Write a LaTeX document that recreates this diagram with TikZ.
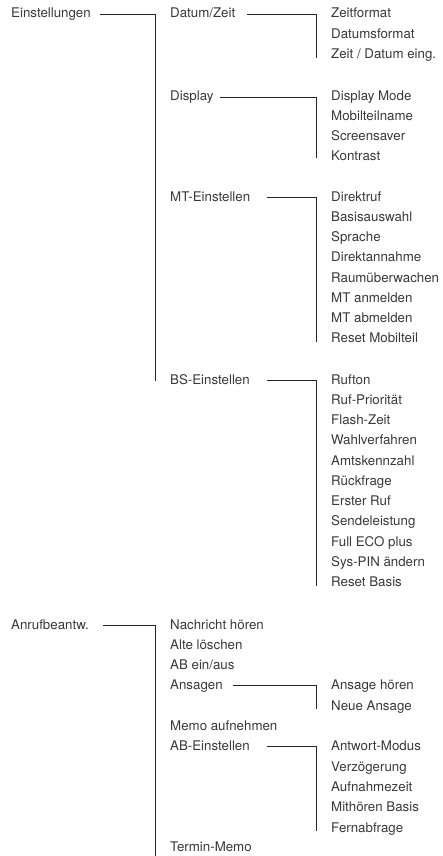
\documentclass[tikz,border=0pt]{standalone}
\usepackage{fontspec}
\setmainfont{TeX Gyre Heros}
\begin{document}
\begin{tikzpicture}[x=1pt,y=-1pt,
  item/.style={anchor=west,inner sep=0pt,text height=8pt,text depth=0pt,
    font=\fontsize{13.3pt}{15pt}\selectfont,text=black!78},
  conn/.style={draw=black!85,line width=0.9pt}]
\useasboundingbox (0,0) rectangle (443,856);
% level 1
\node[item] (einst) at (11,14) {Einstellungen};
\node[item] (anruf) at (11,625) {Anrufbeantw.};
% level 2 Einstellungen
\node[item] (datum) at (170,14) {Datum/Zeit};
\node[item] (disp) at (170,97) {Display};
\node[item] (mt) at (170,197) {MT-Einstellen};
\node[item] (bs) at (170,380) {BS-Einstellen};
% Datum/Zeit
\node[item] (d1) at (331,14) {Zeitformat};
\node[item] (d2) at (331,34.3) {Datumsformat};
\node[item] (d3) at (331,54.6) {Zeit / Datum eing.};
% Display
\node[item] (p1) at (331,97) {Display Mode};
\node[item] (p2) at (331,117) {Mobilteilname};
\node[item] (p3) at (331,136.5) {Screensaver};
\node[item] (p4) at (331,156.5) {Kontrast};
% MT
\node[item] (m1) at (331,197) {Direktruf};
\node[item] (m2) at (331,217.25) {Basisauswahl};
\node[item] (m3) at (331,237.5) {Sprache};
\node[item] (m4) at (331,257.75) {Direktannahme};
\node[item] (m5) at (331,278) {Raumüberwachen};
\node[item] (m6) at (331,298.25) {MT anmelden};
\node[item] (m7) at (331,318.5) {MT abmelden};
\node[item] (m8) at (331,338.75) {Reset Mobilteil};
% BS
\node[item] (b1) at (331,380) {Rufton};
\node[item] (b2) at (331,400.27) {Ruf-Priorität};
\node[item] (b3) at (331,420.54) {Flash-Zeit};
\node[item] (b4) at (331,440.81) {Wahlverfahren};
\node[item] (b5) at (331,461.08) {Amtskennzahl};
\node[item] (b6) at (331,481.35) {Rückfrage};
\node[item] (b7) at (331,501.62) {Erster Ruf};
\node[item] (b8) at (331,521.89) {Sendeleistung};
\node[item] (b9) at (331,542.16) {Full ECO plus};
\node[item] (b10) at (331,562.43) {Sys-PIN ändern};
\node[item] (b11) at (331,582.7) {Reset Basis};
% level 2 Anrufbeantw.
\node[item] (a1) at (170,625) {Nachricht hören};
\node[item] (a2) at (170,645.3) {Alte löschen};
\node[item] (a3) at (170,665.6) {AB ein/aus};
\node[item] (a4) at (170,685.9) {Ansagen};
\node[item] (a5) at (170,726.5) {Memo aufnehmen};
\node[item] (a6) at (170,746.8) {AB-Einstellen};
\node[item] (a7) at (170,847) {Termin-Memo};
% Ansagen
\node[item] (n1) at (331,685.9) {Ansage hören};
\node[item] (n2) at (331,706.2) {Neue Ansage};
% AB-Einstellen
\node[item] (e1) at (331,746.8) {Antwort-Modus};
\node[item] (e2) at (331,767.1) {Verzögerung};
\node[item] (e3) at (331,787.4) {Aufnahmezeit};
\node[item] (e4) at (331,807.7) {Mithören Basis};
\node[item] (e5) at (331,828) {Fernabfrage};
% connector start points
\coordinate (s-einst) at (100,14);
\coordinate (s-anruf) at (103,625);
\coordinate (s-datum) at (247,14);
\coordinate (s-disp) at (220,97);
\coordinate (s-mt) at (267,197);
\coordinate (s-bs) at (267,380);
\coordinate (s-ans) at (233,685.9);
\coordinate (s-ab) at (267,746.8);
\coordinate (end-anruf) at (155,856);
% connectors
\draw[conn] (s-einst) -| ([xshift=-15pt,yshift=-1pt]bs.west);
\draw[conn] (s-anruf) -| (end-anruf);
\draw[conn] (s-datum) -| ([xshift=-15pt,yshift=-3pt]d3.west);
\draw[conn] (s-disp) -| ([xshift=-15pt,yshift=-1.5pt]p4.west);
\draw[conn] (s-mt) -| ([xshift=-15pt,yshift=-3pt]m8.west);
\draw[conn] (s-bs) -| ([xshift=-15pt,yshift=-3pt]b11.west);
\draw[conn] (s-ans) -| ([xshift=-15pt,yshift=-3pt]n2.west);
\draw[conn] (s-ab) -| ([xshift=-15pt,yshift=-3pt]e5.west);
\end{tikzpicture}
\end{document}
